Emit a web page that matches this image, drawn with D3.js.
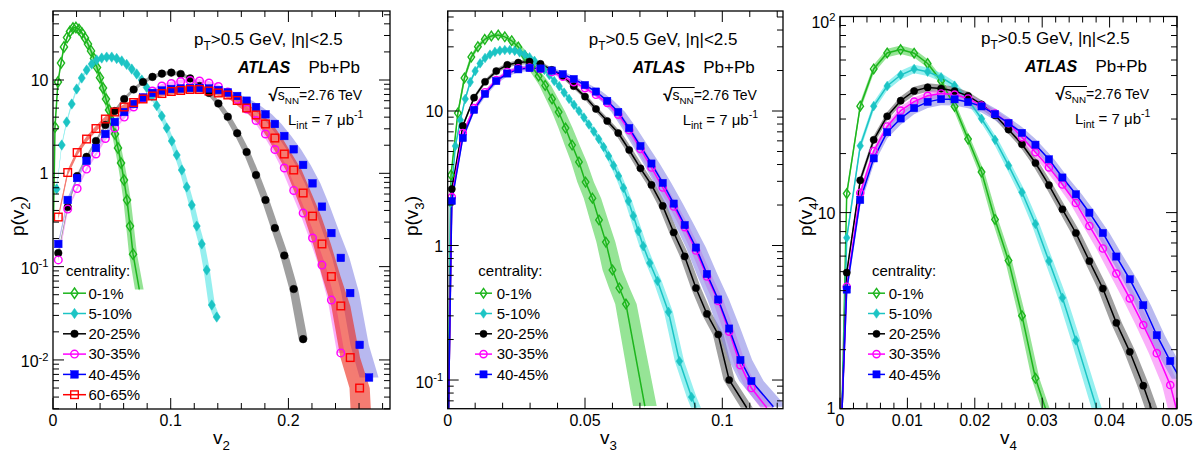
<!DOCTYPE html>
<html>
<head>
<meta charset="utf-8">
<script src="https://cdn.jsdelivr.net/npm/d3@7"></script>
<style>
  body { margin: 0; background: #fff; }
</style>
</head>
<body>
<script>
// ---- v2 panel ----
const v2Green = [0.0017,0.0042,0.0068,0.0093,0.0119,0.0144,0.0170,0.0195,0.0221,0.0246,0.0272,0.0297,0.0323,0.0348,0.0374,0.0399,0.0425,0.0450,0.0476,0.0501,0.0527,0.0552,0.0578,0.0603,0.0629,0.0654,0.0680];
const p2Green = [3.13,9.52,15.2,22.6,28.5,33.1,36.1,36.5,34.8,31.9,28.2,24.3,20.5,17.0,13.6,10.6,8.21,6.25,4.77,3.64,2.64,1.87,1.29,0.847,0.517,0.272,0.136];
const v2Cyan = [0.0031,0.0074,0.0116,0.0159,0.0201,0.0244,0.0286,0.0329,0.0371,0.0414,0.0456,0.0499,0.0541,0.0584,0.0626,0.0669,0.0711,0.0754,0.0796,0.0839,0.0881,0.0924,0.0966,0.1009,0.1051,0.1094,0.1136,0.1179,0.1221,0.1264,0.1306,0.1349,0.1391];
const p2Cyan = [0.68,2.01,3.55,5.53,8.01,10.5,12.8,14.8,16.4,17.2,17.6,17.6,17.0,16.0,14.7,13.1,11.6,10.0,8.31,6.74,5.33,4.11,3.06,2.22,1.57,1.085,0.713,0.457,0.272,0.175,0.092,0.0388,0.0288];
const v2Bins = [0.0045,0.0125,0.0205,0.0285,0.0365,0.0445,0.0525,0.0605,0.0685,0.0765,0.0845,0.0925,0.1005,0.1085,0.1165,0.1245,0.1325,0.1405,0.1485,0.1565,0.1645,0.1725,0.1805,0.1885,0.1965,0.2045,0.2125,0.2205,0.2285,0.2365,0.2445,0.2525,0.2605,0.2685];
const p2Black = [0.140,0.435,0.935,1.50,2.22,3.29,4.65,6.26,7.91,9.52,10.8,11.7,12.0,11.6,10.4,8.63,7.26,5.60,4.04,2.69,1.69,0.959,0.518,0.259,0.1315,0.0575,0.0167];
const p2Magenta = [0.118,0.414,0.687,1.11,1.61,2.36,3.06,4.01,5.14,6.41,7.62,8.62,9.17,9.64,9.88,9.75,9.29,8.51,7.43,6.18,4.89,3.68,2.64,1.80,1.14,0.655,0.375,0.2025,0.104,0.0438,0.0119];
const p2Blue = [0.175,0.518,0.891,1.36,1.87,2.64,3.55,4.54,5.53,6.49,7.26,7.72,8.01,8.11,8.21,8.21,8.11,7.81,7.35,6.74,6.00,5.13,4.29,3.38,2.51,1.81,1.23,0.781,0.439,0.229,0.124,0.0521,0.0145,0.00648];
const p2Red = [0.340,1.02,1.67,2.33,3.02,3.82,4.54,5.14,5.74,6.26,6.74,7.16,7.53,7.72,7.91,7.91,7.62,7.26,6.91,6.03,5.01,4.22,3.38,2.39,1.61,1.085,0.615,0.348,0.175,0.0783,0.0379,0.0106,0.0050];

// ---- v3 panel ----
const v3Green = [0.0012,0.0037,0.0061,0.0086,0.0110,0.0135,0.0159,0.0184,0.0208,0.0233,0.0257,0.0282,0.0306,0.0331,0.0355,0.0380,0.0404,0.0429,0.0453,0.0478,0.0502,0.0527,0.0551,0.0576,0.0600,0.0625,0.0649];
const p3Green = [3.34,9.66,17.6,25.2,30.1,34.1,36.1,36.7,35.6,33.3,29.9,25.6,21.4,18.2,15.5,12.3,9.83,7.47,5.58,4.18,2.96,2.25,1.55,1.06,0.658,0.483,0.367];
const v3Cyan = [0.0010,0.0028,0.0046,0.0064,0.0082,0.0100,0.0118,0.0136,0.0154,0.0172,0.0190,0.0208,0.0226,0.0244,0.0262,0.0280,0.0298,0.0316,0.0334,0.0352,0.0370,0.0388,0.0406,0.0424,0.0442,0.0460,0.0478,0.0496,0.0514,0.0532,0.0550,0.0568,0.0586,0.0604,0.0622,0.0640,0.0658,0.0676,0.0694,0.0712,0.0736,0.0764,0.0804,0.0844,0.0888];
const p3Cyan = [2.07,5.49,8.57,12.3,16.4,19.8,22.6,24.8,26.3,27.5,28.1,28.4,28.4,28.0,27.3,26.3,25.1,23.6,22.0,20.2,18.5,16.7,15.3,13.7,12.3,11.1,10.0,8.95,7.94,7.04,6.19,5.40,4.63,3.93,3.29,2.68,2.14,1.66,1.28,0.99,0.741,0.545,0.321,0.138,0.0748];
const v3Bins = [0.0015,0.0055,0.0096,0.0136,0.0177,0.0217,0.0257,0.0298,0.0338,0.0379,0.0419,0.0459,0.0500,0.0540,0.0581,0.0621,0.0661,0.0702,0.0742,0.0783,0.0823,0.0863,0.0904,0.0944,0.0985,0.1025,0.1066,0.1106];
const p3Black = [2.63,7.74,12.56,16.5,19.8,22.0,22.9,23.3,22.4,20.2,18.2,15.3,12.8,10.35,8.43,6.86,5.13,3.75,2.82,1.97,1.25,0.829,0.483,0.310,0.218,0.100];
const p3Magenta = [2.29,6.86,10.5,13.8,17.0,19.5,20.8,21.0,20.5,19.5,18.0,16.4,14.8,13.2,11.5,9.4,7.2,5.22,3.80,2.70,1.95,1.37,0.918,0.588,0.387,0.229,0.129,0.0872];
const p3Blue = [2.14,6.30,10.2,13.4,16.7,19.0,20.4,20.9,20.7,20.0,18.8,17.3,15.6,13.96,11.9,9.83,7.47,5.49,4.07,2.92,2.05,1.42,0.966,0.614,0.397,0.2415,0.141,0.0983];

// ---- v4 panel ----
const v4Bins = [0.001,0.003,0.005,0.007,0.009,0.011,0.013,0.015,0.017,0.019,0.021,0.023,0.025,0.027,0.029,0.031,0.033,0.035,0.037,0.039,0.041,0.043,0.045,0.047,0.049];
const p4Green = [12.5,34.9,54.0,65.2,67.8,65.0,57.6,46.9,34.8,23.7,16.1,9.23,5.69,2.98,1.43];
const p4Cyan = [7.44,21.9,34.9,44.2,50.3,54.0,52.3,49.0,44.4,37.6,30.1,23.5,17.4,12.7,8.75,5.66,3.68,2.23];
const p4Black = [4.94,14.6,23.5,31.0,37.2,41.7,43.5,42.9,41.7,39.4,35.6,31.4,26.5,22.3,17.9,13.8,10.4,7.87,5.66,4.10,2.74,1.95,1.31];
const p4Magenta = [4.19,12.6,20.6,27.5,33.1,36.8,39.4,40.5,40.0,38.2,35.1,32.0,28.6,24.2,20.3,17.0,13.9,11.2,8.55,6.56,4.89,3.65,2.67,1.92,1.32];
const p4Blue = [4.05,11.6,18.9,25.7,30.2,34.1,36.7,37.9,37.8,36.6,34.8,31.8,28.6,25.5,22.2,18.7,15.1,12.4,9.99,7.87,5.97,4.57,3.37,2.37,1.75];

// tick labels
const xLabels2 = [[0,'0'],[0.1,'0.1'],[0.2,'0.2']];
const xLabels3 = [[0,'0'],[0.05,'0.05'],[0.1,'0.1']];
const xLabels4 = [[0,'0'],[0.01,'0.01'],[0.02,'0.02'],[0.03,'0.03'],[0.04,'0.04'],[0.05,'0.05']];
const yLabels2 = [[0.01,'10','-2'],[0.1,'10','-1'],[1,'1'],[10,'10']];
const yLabels3 = [[0.1,'10','-1'],[1,'1'],[10,'10']];
const yLabels4 = [[1,'1'],[10,'10'],[100,'10','2']];

const styles = {
  c0:  {name:'0-1%',   color:'#1db51d', shape:'diamond', filled:false, band:'#50d250'},
  c5:  {name:'5-10%',  color:'#1cc4c4', shape:'diamond', filled:true,  band:'#50e6e6'},
  c20: {name:'20-25%', color:'#000000', shape:'circle',  filled:true,  band:'#616161'},
  c30: {name:'30-35%', color:'#ff00ff', shape:'circle',  filled:false, band:'#f77af7'},
  c40: {name:'40-45%', color:'#0000ff', shape:'square',  filled:true,  band:'#8a8ae6'},
  c60: {name:'60-65%', color:'#ff0000', shape:'square',  filled:false, band:'#ee2616'}
};

const svg = d3.select('body').append('svg')
  .attr('width', 1196).attr('height', 452)
  .style('font-family', '"Liberation Sans", Arial, Helvetica, sans-serif');

// text with sub/superscript pieces
function rich(g, x, y, size, parts) {
  const t = g.append('text').attr('x', x).attr('y', y).attr('font-size', size);
  let shift = 0;
  parts.forEach(pt => {
    const str = typeof pt === 'string' ? pt : pt[0];
    const mode = typeof pt === 'string' ? '' : pt[1];
    const target = mode === 'sub' ? size * 0.32 : mode === 'sup' ? -size * 0.42 : 0;
    const ts = t.append('tspan').text(str).attr('dy', target - shift);
    if (mode) ts.attr('font-size', size * 0.7);
    shift = target;
  });
  return t;
}

function marker(g, st, cx, cy, ms) {
  let el;
  if (st.shape === 'circle') el = g.append('circle').attr('cx', cx).attr('cy', cy).attr('r', ms.r);
  else if (st.shape === 'square') el = g.append('rect').attr('x', cx - ms.s).attr('y', cy - ms.s).attr('width', 2 * ms.s).attr('height', 2 * ms.s);
  else el = g.append('path').attr('d', `M${cx},${cy - ms.dh}L${cx + ms.dw},${cy}L${cx},${cy + ms.dh}L${cx - ms.dw},${cy}Z`);
  el.attr('fill', st.filled ? st.color : 'none')
    .attr('stroke', st.color)
    .attr('stroke-width', st.filled ? 0.5 : 1.4);
}

function drawPanel(cfg) {
  const x = d3.scaleLinear().domain([0, cfg.xMax]).range([cfg.left, cfg.right]);
  const y = d3.scaleLog().domain([cfg.yMin, cfg.yMax]).range([cfg.bottom, cfg.top]);
  const g = svg.append('g');
  const cid = 'clip' + cfg.id;
  svg.append('defs').append('clipPath').attr('id', cid).append('rect')
    .attr('x', cfg.left).attr('y', cfg.top)
    .attr('width', cfg.right - cfg.left).attr('height', cfg.bottom - cfg.top);
  const plot = g.append('g').attr('clip-path', `url(#${cid})`);
  const line = d3.line().x(d => x(d[0])).y(d => y(d[1]));

  const ser = cfg.series.map(s => {
    const pts = s.p.map((p, i) => [s.v[i], p]);
    let full = s.tail ? pts.concat([s.tail]) : pts;
    if (s.head) full = [s.head].concat(full);
    return Object.assign({}, s, {pts: pts, full: full, st: styles[s.st]});
  });

  // uncertainty bands
  ser.forEach(s => {
    const b = plot.append('g').attr('opacity', 0.6);
    const rev = s.full.slice().reverse();
    const hr = s.full.map(d => [d[0] * (1 + s.f), d[1]]).concat(rev.map(d => [d[0] * (1 - s.f), d[1]]));
    const vr = s.full.map(d => [d[0], d[1] * (1 + s.g)]).concat(rev.map(d => [d[0], d[1] * (1 - s.g)]));
    b.append('path').attr('d', line(hr) + 'Z').attr('fill', s.st.band);
    b.append('path').attr('d', line(vr) + 'Z').attr('fill', s.st.band);
  });

  ser.filter(s => s.line).forEach(s => {
    plot.append('path').attr('d', line(s.full))
      .attr('fill', 'none').attr('stroke', s.st.color).attr('stroke-width', 1.5);
  });

  ser.forEach(s => s.pts.forEach(d => marker(plot, s.st, x(d[0]), y(d[1]), cfg.ms)));

  // frame and ticks (inward, all sides)
  g.append('rect').attr('x', cfg.left).attr('y', cfg.top)
    .attr('width', cfg.right - cfg.left).attr('height', cfg.bottom - cfg.top)
    .attr('fill', 'none').attr('stroke', '#000').attr('stroke-width', 1.3);
  const ax = g.append('g').attr('stroke', '#000').attr('stroke-width', 1);
  d3.range(0, cfg.xMax + 1e-9, cfg.xMinor).forEach(t => {
    const r = t / cfg.xMajor;
    const L = Math.abs(r - Math.round(r)) < 1e-6 ? 11 : 6;
    const px = x(t);
    ax.append('line').attr('x1', px).attr('x2', px).attr('y1', cfg.bottom).attr('y2', cfg.bottom - L);
    ax.append('line').attr('x1', px).attr('x2', px).attr('y1', cfg.top).attr('y2', cfg.top + L);
  });
  for (let e = Math.floor(Math.log10(cfg.yMin)); e <= Math.ceil(Math.log10(cfg.yMax)); e++) {
    for (let k = 1; k <= 9; k++) {
      const t = k * Math.pow(10, e);
      if (t < cfg.yMin * 0.999 || t > cfg.yMax * 1.001) continue;
      const L = k === 1 ? 11 : 6;
      const py = y(t);
      ax.append('line').attr('x1', cfg.left).attr('x2', cfg.left + L).attr('y1', py).attr('y2', py);
      ax.append('line').attr('x1', cfg.right).attr('x2', cfg.right - L).attr('y1', py).attr('y2', py);
    }
  }

  cfg.xLabels.forEach(([t, s]) => {
    g.append('text').attr('x', x(t)).attr('y', 426).attr('font-size', 16)
      .attr('text-anchor', 'middle').text(s);
  });
  cfg.yLabels.forEach(([t, base, sup]) => {
    const by = Math.min(Math.max(y(t) + (sup ? 7.5 : 6), cfg.top + 11), cfg.bottom + 5);
    const parts = sup ? [base, [sup, 'sup']] : [base];
    rich(g, cfg.left - 4.5, by, 16, parts).attr('text-anchor', 'end');
  });

  // axis titles
  rich(g, cfg.xTitleX, 444, 19, ['v', [cfg.n, 'sub']]);
  rich(g, 0, 0, 19, ['p(v', [cfg.n, 'sub'], ')'])
    .attr('text-anchor', 'middle')
    .attr('transform', `translate(${cfg.yTitleX},216) rotate(-90)`);

  // annotations
  const L0 = cfg.left, dy = cfg.textDy;
  rich(g, L0 + 141, 45 + dy, 17, ['p', ['T', 'sub'], '>0.5 GeV, |η|<2.5']);
  g.append('text').attr('x', L0 + 185).attr('y', 72.5 + dy).attr('font-size', 16)
    .attr('font-weight', 'bold').attr('font-style', 'italic').text('ATLAS');
  g.append('text').attr('x', L0 + 255.5).attr('y', 72.5 + dy).attr('font-size', 17).text('Pb+Pb');
  const sx = L0 + 215.5, sy = 100 + dy;
  const rad = g.append('text').attr('x', sx).attr('y', sy + 1).attr('font-size', 17)
    .attr('font-weight', 'bold').text('√');
  const rw = rad.node().getComputedTextLength();
  const sn = rich(g, sx + rw, sy, 14, ['s', ['NN', 'sub']]);
  const bb = sn.node().getBBox();
  g.append('line').attr('x1', sx + rw - 1).attr('x2', bb.x + bb.width + 1)
    .attr('y1', sy - 12.5).attr('y2', sy - 12.5).attr('stroke', '#000').attr('stroke-width', 1);
  rich(g, bb.x + bb.width, sy, 14, ['=2.76 TeV']);
  rich(g, L0 + 235, 124.5 + dy, 15, ['L', ['int', 'sub'], ' = 7 μb', ['-1', 'sup']]);

  // legend
  const lg = cfg.legend;
  g.append('text').attr('x', lg.cx).attr('y', 275.5).attr('font-size', 15).text('centrality:');
  ser.forEach((s, i) => {
    const base = 298.5 + 20.3 * i, my = base - 5.3;
    g.append('line').attr('x1', lg.l0).attr('x2', lg.l1).attr('y1', my).attr('y2', my)
      .attr('stroke', s.st.color).attr('stroke-width', 1.5);
    marker(g, s.st, lg.mark, my, cfg.ms);
    g.append('text').attr('x', lg.tx).attr('y', base).attr('font-size', 15).text(s.st.name);
  });
}

drawPanel({
  id: 1, n: '2', left: 53, right: 390, top: 11, bottom: 409,
  xMax: 0.2863, yMin: 0.00298, yMax: 54.9, xMajor: 0.1, xMinor: 0.02,
  xLabels: xLabels2, yLabels: yLabels2, xTitleX: 213, yTitleX: 24, textDy: 0,
  ms: {r: 3.8, s: 3.8, dw: 3.6, dh: 5.2},
  legend: {cx: 66, mark: 74.5, l0: 63, l1: 86, tx: 88.5},
  series: [
    {st: 'c0',  v: v2Green, p: p2Green, head: [0.0004, 0.3], tail: [0.0733, 0.057], line: true, f: 0.05, g: 0.05},
    {st: 'c5',  v: v2Cyan, p: p2Cyan, f: 0.02, g: 0.05},
    {st: 'c20', v: v2Bins, p: p2Black, f: 0.018, g: 0.05},
    {st: 'c30', v: v2Bins, p: p2Magenta, f: 0.013, g: 0.05},
    {st: 'c40', v: v2Bins, p: p2Blue, f: 0.03, g: 0.06},
    {st: 'c60', v: v2Bins, p: p2Red, tail: [0.2615, 0.0028], f: 0.033, g: 0.07}
  ]
});

drawPanel({
  id: 2, n: '3', left: 447.7, right: 783, top: 11, bottom: 408.7,
  xMax: 0.1221, yMin: 0.0612, yMax: 55.4, xMajor: 0.05, xMinor: 0.01,
  xLabels: xLabels3, yLabels: yLabels3, xTitleX: 600, yTitleX: 418, textDy: 0,
  ms: {r: 3.6, s: 3.6, dw: 3.3, dh: 4.8},
  legend: {cx: 478.3, mark: 483.5, l0: 475, l1: 492, tx: 496.7},
  series: [
    {st: 'c0',  v: v3Green, p: p3Green, head: [0.0003, 0.06], tail: [0.0718, 0.064], line: true, f: 0.06, g: 0.04},
    {st: 'c5',  v: v3Cyan, p: p3Cyan, head: [0.0003, 0.06], tail: [0.0904, 0.0622], line: true, f: 0.02, g: 0.04},
    {st: 'c20', v: v3Bins, p: p3Black, head: [0.0003, 0.06], tail: [0.1089, 0.0622], line: true, f: 0.02, g: 0.04},
    {st: 'c30', v: v3Bins, p: p3Magenta, head: [0.0003, 0.06], tail: [0.1162, 0.0622], line: true, f: 0.02, g: 0.04},
    {st: 'c40', v: v3Bins, p: p3Blue, head: [0.0003, 0.06], tail: [0.1186, 0.0633], line: true, f: 0.04, g: 0.05}
  ]
});

drawPanel({
  id: 3, n: '4', left: 840, right: 1177, top: 16.5, bottom: 408.7,
  xMax: 0.05, yMin: 1, yMax: 100, xMajor: 0.01, xMinor: 0.002,
  xLabels: xLabels4, yLabels: yLabels4, xTitleX: 1000, yTitleX: 812, textDy: -1,
  ms: {r: 3.6, s: 3.6, dw: 3.3, dh: 4.8},
  legend: {cx: 872, mark: 876.5, l0: 868, l1: 885, tx: 888.7},
  series: [
    {st: 'c0',  v: v4Bins, p: p4Green, head: [0.0003, 0.98], tail: [0.0305, 1.0], line: true, f: 0.02, g: 0.05},
    {st: 'c5',  v: v4Bins, p: p4Cyan, head: [0.0003, 0.98], tail: [0.0381, 1.0], line: true, f: 0.02, g: 0.05},
    {st: 'c20', v: v4Bins, p: p4Black, head: [0.0003, 0.98], tail: [0.0462, 1.0], line: true, f: 0.02, g: 0.05},
    {st: 'c30', v: v4Bins, p: p4Magenta, head: [0.0003, 0.98], tail: [0.0499, 1.0], line: true, f: 0.025, g: 0.05},
    {st: 'c40', v: v4Bins, p: p4Blue, head: [0.0003, 0.98], tail: [0.0505, 1.42], line: true, f: 0.025, g: 0.07}
  ]
});
</script>
</body>
</html>
